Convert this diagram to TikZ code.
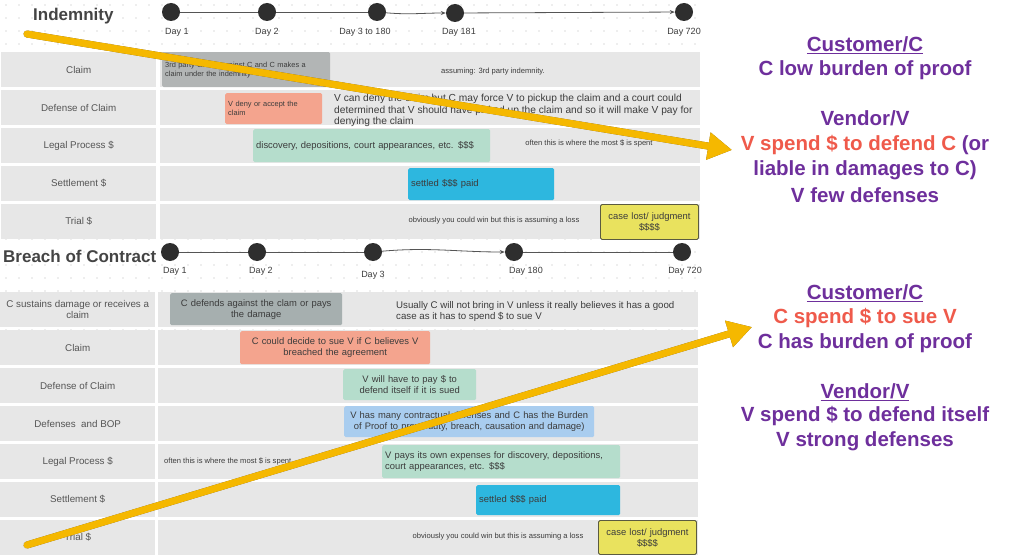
\documentclass[tikz,border=0pt]{standalone}
\usepackage{fontspec}
\setmainfont{Liberation Sans}
\usetikzlibrary{positioning,arrows.meta}

\definecolor{rowgray}{HTML}{E7E7E7}
\definecolor{textgray}{HTML}{555555}
\definecolor{cardtext}{HTML}{3C3C3C}
\definecolor{claimgray}{HTML}{B2B5B5}
\definecolor{damagegray}{HTML}{A6AFAF}
\definecolor{salmon}{HTML}{F4A48E}
\definecolor{mint}{HTML}{B5DDCC}
\definecolor{skyblue}{HTML}{2DB7DF}
\definecolor{paleblue}{HTML}{A9CDEF}
\definecolor{lemon}{HTML}{E9E25E}
\definecolor{lemonedge}{HTML}{5B5B40}
\definecolor{dotdark}{HTML}{2E2E2E}
\definecolor{gridgray}{HTML}{B8B8B8}
\definecolor{lilac}{HTML}{6E2F9C}
\definecolor{redtxt}{HTML}{EF5A4B}
\definecolor{arrowgold}{HTML}{F5B800}
\definecolor{arrowshadow}{HTML}{7A5A10}

\begin{document}
\begin{tikzpicture}[x=1pt, y=-1pt,
  lab/.style={fill=rowgray, anchor=north west, minimum width=155, minimum height=35, inner sep=2, align=center, text=textgray, font=\fontsize{9.8}{11.5}\selectfont},
  lane/.style={fill=rowgray, anchor=north west, minimum width=540, minimum height=35, inner sep=0},
  card/.style={anchor=north west, rounded corners=1.5, inner sep=3, text=cardtext, font=\fontsize{9.4}{11}\selectfont},
  tinycard/.style={card, font=\fontsize{7.4}{9}\selectfont},
  note/.style={inner sep=0, text=cardtext, font=\fontsize{7.6}{9}\selectfont},
  prose/.style={anchor=north west, inner sep=0, align=left, text=cardtext, font=\fontsize{10.2}{11.6}\selectfont},
  dot/.style={circle, fill=dotdark, minimum size=18, inner sep=0},
  day/.style={inner sep=0, text=cardtext, font=\fontsize{9}{10}\selectfont},
  tl/.style={draw=textgray, line width=0.8},
  tlarrow/.style={tl, -{Stealth[length=5pt,width=4pt]}},
  heading/.style={anchor=west, inner sep=0, text=textgray!80!black, font=\fontsize{17}{19}\selectfont\bfseries},
  rt/.style={inner sep=0, text=lilac, font=\fontsize{20.5}{23}\selectfont\bfseries},
  goldarrow/.style={draw=arrowgold, line width=7, line cap=round, -{Triangle[width=26pt,length=24pt]}}]

\useasboundingbox (0,0) rectangle (1024,559);
\fill[white] (0,0) rectangle (1024,559);

% dot grid
\foreach \x in {6,19,...,706}
  \foreach \y in {5,18,...,559}
    \fill[gridgray] (\x,\y) circle (0.7);

% ---------- Indemnity ----------
\node[heading] (ihead) at (33,16) {Indemnity};
\node[dot] (id1) at (171,12) {};
\node[dot] (id2) at (267,12) {};
\node[dot] (id3) at (377,12) {};
\node[dot] (id4) at (455,13) {};
\node[dot] (id5) at (684,12) {};
\draw[tl] (id1) -- (id2);
\draw[tl] (id2) -- (id3);
\draw[tlarrow] (id3) to[out=-5,in=180] (id4);
\draw[tlarrow] (id4) -- (id5);
\node[day, below=7pt of id1, xshift=6pt] {Day 1};
\node[day, below=7pt of id2] {Day 2};
\node[day, below=7pt of id3, xshift=-12pt] {Day 3 to 180};
\node[day, below=6pt of id4, xshift=4pt] {Day 181};
\node[day, below=7pt of id5] {Day 720};

\node[lab] (iclaim) at (1,52) {Claim};
\node[lab] (idef) at (1,90) {Defense of Claim};
\node[lab] (ilegal) at (1,128) {Legal Process \$};
\node[lab] (isettle) at (1,166) {Settlement \$};
\node[lab] (itrial) at (1,204) {Trial \$};
\node[lane] (iclaimlane) at (160,52) {};
\node[lane] (ideflane) at (160,90) {};
\node[lane] (ilegallane) at (160,128) {};
\node[lane] (isettlelane) at (160,166) {};
\node[lane] (itriallane) at (160,204) {};

\node[tinycard, fill=claimgray, text width=162, minimum height=35, align=left] (iclaimbox) at (162,52) {3rd party claims against C and C makes a\\claim under the indemnity};
\node[note] (iassume) at (493,72) {assuming: 3rd party indemnity.};
\node[tinycard, fill=salmon, text width=91, minimum height=31, align=left] (idenybox) at (225,93) {V deny or accept the\\claim};
\node[prose] (idenytext) at (334,94) {V can deny the claim but C may force V to pickup the claim and a court could\\determined that V should have picked up the claim and so it will make V pay for\\denying the claim};
\node[card, fill=mint, text width=231, minimum height=33, align=left] (idiscbox) at (253,129) {discovery, depositions, court appearances, etc. \$\$\$};
\node[note] (ispent) at (589,143) {often this is where the most \$ is spent};
\node[card, fill=skyblue, text width=140, minimum height=32, align=left] (isettlebox) at (408,168) {settled \$\$\$ paid};
\node[note] (iloss) at (494,221) {obviously you could win but this is assuming a loss};
\node[card, draw=lemonedge, line width=0.9, fill=lemon, text width=92, minimum height=35, align=center] (ilostbox) at (600,204) {case lost/ judgment\\\$\$\$\$};

% ---------- Breach of Contract ----------
\node[heading] (bhead) at (3,256) {Breach of Contract};
\node[dot] (bd1) at (170,252) {};
\node[dot] (bd2) at (257,252) {};
\node[dot] (bd3) at (373,252) {};
\node[dot] (bd4) at (514,252) {};
\node[dot] (bd5) at (682,252) {};
\draw[tl] (bd1) -- (bd2);
\draw[tl] (bd2) -- (bd3);
\draw[tlarrow] (bd3) to[out=5,in=180] (bd4);
\draw[tl] (bd4) -- (bd5);
\node[day, below=6pt of bd1, xshift=5pt] {Day 1};
\node[day, below=6pt of bd2, xshift=4pt] {Day 2};
\node[day, below=10pt of bd3] {Day 3};
\node[day, below=6pt of bd4, xshift=12pt] {Day 180};
\node[day, below=6pt of bd5, xshift=3pt] {Day 720};

\node[lab] (bdamage) at (0,292) {C sustains damage or receives a\\claim};
\node[lab] (bclaim) at (0,330) {Claim};
\node[lab] (bdef) at (0,368) {Defense of Claim};
\node[lab] (bbop) at (0,406) {Defenses\ \ and BOP};
\node[lab] (blegal) at (0,444) {Legal Process \$};
\node[lab] (bsettle) at (0,482) {Settlement \$};
\node[lab] (btrial) at (0,520) {Trial \$};
\node[lane] (bdamagelane) at (158,292) {};
\node[lane] (bclaimlane) at (158,330) {};
\node[lane] (bdeflane) at (158,368) {};
\node[lane] (bbopllane) at (158,406) {};
\node[lane] (blegallane) at (158,444) {};
\node[lane] (bsettlelane) at (158,482) {};
\node[lane] (btriallane) at (158,520) {};

\node[card, fill=damagegray, text width=166, minimum height=32, align=center] (bdefendbox) at (170,293) {C defends against the clam or pays\\the damage};
\node[prose, font=\fontsize{9.7}{11.5}\selectfont] (busually) at (396,301) {Usually C will not bring in V unless it really believes it has a good\\case as it has to spend \$ to sue V};
\node[card, fill=salmon, text width=184, minimum height=33, align=center] (bsuebox) at (240,331) {C could decide to sue V if C believes V\\breached the agreement};
\node[card, fill=mint, text width=127, minimum height=31, align=center] (bpaybox) at (343,369) {V will have to pay \$ to\\defend itself if it is sued};
\node[card, fill=paleblue, text width=244, minimum height=31, align=center] (bbopbox) at (344,406) {V has many contractual defenses and C has the Burden\\of Proof to prove duty, breach, causation and damage)};
\node[note, anchor=west] (bspent) at (164,461) {often this is where the most \$ is spent};
\node[card, fill=mint, text width=232, minimum height=33, align=left] (bexpbox) at (382,445) {V pays its own expenses for discovery, depositions,\\court appearances, etc. \$\$\$};
\node[card, fill=skyblue, text width=138, minimum height=30, align=left] (bsettlebox) at (476,485) {settled \$\$\$ paid};
\node[note] (bloss) at (498,537) {obviously you could win but this is assuming a loss};
\node[card, draw=lemonedge, line width=0.9, fill=lemon, text width=92, minimum height=34, align=center] (blostbox) at (598,520) {case lost/ judgment\\\$\$\$\$};

% ---------- summary text ----------
\node[rt] (icust) at (865,45) {\underline{Customer/C}};
\node[rt] (iburden) at (865,70) {C low burden of proof};
\node[rt] (ivend) at (865,118) {Vendor/V};
\node[rt] (ispend) at (865,145) {\textcolor{redtxt}{V spend \$ to defend C} (or};
\node[rt] (iliable) at (865,170) {liable in damages to C)};
\node[rt] (ifew) at (865,195) {V few defenses};

\node[rt] (bcust) at (865,293) {\underline{Customer/C}};
\node[rt, text=redtxt] (bspend) at (865,318) {C spend \$ to sue V};
\node[rt] (bburden) at (865,343) {C has burden of proof};
\node[rt] (bvend) at (865,392) {\underline{Vendor/V}};
\node[rt] (bitself) at (865,416) {V spend \$ to defend itself};
\node[rt] (bstrong) at (865,441) {V strong defenses};

% ---------- yellow pointers ----------
\coordinate (ya1) at (27,34);
\coordinate (ya2) at (732,150);
\coordinate (yb1) at (27,545);
\coordinate (yb2) at (752,327);
\draw[goldarrow, draw=arrowshadow, xshift=1, yshift=-1.5] (ya1) -- (ya2);
\draw[goldarrow] (ya1) -- (ya2);
\draw[goldarrow, draw=arrowshadow, xshift=1, yshift=-1.5] (yb1) -- (yb2);
\draw[goldarrow] (yb1) -- (yb2);
\end{tikzpicture}
\end{document}
